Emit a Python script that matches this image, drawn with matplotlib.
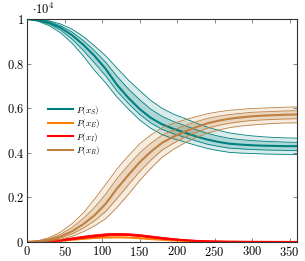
import numpy as np
import matplotlib
matplotlib.use("Agg")
import matplotlib.pyplot as plt
from matplotlib.ticker import FuncFormatter, MultipleLocator

plt.rcParams['mathtext.fontset'] = 'cm'
plt.rcParams['font.family'] = 'DejaVu Serif'

# Zeit in Tagen
t = [0, 15, 30, 45, 60, 75, 90, 105, 120, 135, 150, 165, 180,
     195, 210, 225, 240, 255, 270, 285, 300, 315, 330, 345, 360]

# Anteile in Einheiten von 10^4
S_mean = [1.000, 0.995, 0.983, 0.961, 0.928, 0.885, 0.835, 0.776, 0.705, 0.647, 0.597, 0.557, 0.528,
          0.508, 0.491, 0.474, 0.460, 0.449, 0.441, 0.437, 0.434, 0.432, 0.431, 0.430, 0.430]
S_hi = [1.000, 0.998, 0.992, 0.978, 0.955, 0.922, 0.880, 0.835, 0.780, 0.727, 0.680, 0.635, 0.600,
        0.574, 0.555, 0.534, 0.516, 0.501, 0.489, 0.482, 0.476, 0.472, 0.469, 0.467, 0.466]
S_lo = [1.000, 0.990, 0.970, 0.938, 0.892, 0.835, 0.770, 0.713, 0.650, 0.597, 0.548, 0.510, 0.482,
        0.463, 0.449, 0.434, 0.420, 0.410, 0.402, 0.399, 0.397, 0.395, 0.394, 0.393, 0.393]
S_hi2 = [1.000, 0.997, 0.988, 0.970, 0.942, 0.904, 0.858, 0.806, 0.743, 0.687, 0.639, 0.596, 0.564,
         0.541, 0.523, 0.504, 0.488, 0.475, 0.465, 0.459, 0.455, 0.452, 0.450, 0.448, 0.447]
S_lo2 = [1.000, 0.993, 0.977, 0.950, 0.910, 0.860, 0.803, 0.745, 0.677, 0.622, 0.573, 0.534, 0.505,
         0.486, 0.470, 0.454, 0.439, 0.429, 0.421, 0.418, 0.415, 0.413, 0.412, 0.411, 0.410]

R_mean = [0.000, 0.003, 0.010, 0.025, 0.048, 0.080, 0.120, 0.172, 0.240, 0.300, 0.357, 0.405, 0.445,
          0.472, 0.495, 0.515, 0.532, 0.544, 0.553, 0.559, 0.564, 0.567, 0.569, 0.571, 0.572]
R_hi = [0.000, 0.006, 0.020, 0.045, 0.082, 0.130, 0.192, 0.259, 0.328, 0.386, 0.440, 0.480, 0.512,
        0.532, 0.548, 0.562, 0.575, 0.584, 0.591, 0.595, 0.599, 0.601, 0.603, 0.605, 0.606]
R_lo = [0.000, 0.001, 0.004, 0.012, 0.025, 0.046, 0.072, 0.105, 0.155, 0.213, 0.275, 0.330, 0.380,
        0.415, 0.444, 0.468, 0.488, 0.502, 0.513, 0.520, 0.525, 0.529, 0.532, 0.534, 0.535]
R_hi2 = [0.000, 0.004, 0.015, 0.035, 0.065, 0.105, 0.155, 0.215, 0.285, 0.344, 0.399, 0.443, 0.479,
         0.502, 0.522, 0.539, 0.554, 0.564, 0.572, 0.577, 0.582, 0.584, 0.586, 0.588, 0.589]
R_lo2 = [0.000, 0.002, 0.007, 0.018, 0.036, 0.062, 0.095, 0.137, 0.195, 0.256, 0.315, 0.367, 0.412,
         0.443, 0.469, 0.491, 0.510, 0.523, 0.533, 0.540, 0.545, 0.548, 0.550, 0.552, 0.553]

E_mean = [0.000, 0.001, 0.003, 0.006, 0.010, 0.014, 0.018, 0.020, 0.021, 0.020, 0.017, 0.013, 0.010,
          0.007, 0.005, 0.003, 0.002, 0.0012, 0.0008, 0.0005, 0.0003, 0.0002, 0.0001, 0.0001, 0.0]
I_mean = [0.000, 0.001, 0.004, 0.008, 0.014, 0.021, 0.027, 0.032, 0.034, 0.033, 0.029, 0.023, 0.017,
          0.012, 0.008, 0.005, 0.003, 0.002, 0.0013, 0.0008, 0.0005, 0.0003, 0.0002, 0.0001, 0.0001]
I_hi = [0.000, 0.002, 0.006, 0.011, 0.018, 0.026, 0.032, 0.037, 0.038, 0.037, 0.033, 0.027, 0.021,
        0.015, 0.010, 0.007, 0.004, 0.003, 0.002, 0.0012, 0.0008, 0.0005, 0.0003, 0.0002, 0.0001]
I_lo = [0.000, 0.0005, 0.002, 0.005, 0.010, 0.016, 0.022, 0.027, 0.030, 0.029, 0.025, 0.019, 0.013,
        0.009, 0.006, 0.0035, 0.002, 0.0012, 0.0008, 0.0005, 0.0003, 0.0002, 0.0001, 0.0001, 0.0]

teal = '#008080'
brown = '#BF8040'
orange = '#FF8000'
red = '#FF0000'

fig = plt.figure(figsize=(3.05, 2.61), dpi=100)
ax = fig.add_axes([0.0885, 0.0728, 0.8855, 0.854])

def band(ax, lo, hi, lo2, hi2, mean, col, label):
    ax.fill_between(t, lo, hi, color=col, alpha=0.15, lw=0)
    ax.fill_between(t, lo2, hi2, color=col, alpha=0.2, lw=0)
    for b in (lo, hi, lo2, hi2):
        ax.plot(t, b, color=col, lw=0.6)
    ax.plot(t, mean, color=col, lw=1.5, label=label)

band(ax, S_lo, S_hi, S_lo2, S_hi2, S_mean, teal, r'$P(x_S)$')
ax.plot(t, E_mean, color=orange, lw=1.5, label=r'$P(x_E)$')
ax.fill_between(t, I_lo, I_hi, color=red, alpha=0.5, lw=0)
ax.plot(t, I_hi, color=red, lw=0.6)
ax.plot(t, I_lo, color=red, lw=0.6)
ax.plot(t, I_mean, color=red, lw=1.5, label=r'$P(x_I)$')
band(ax, R_lo, R_hi, R_lo2, R_hi2, R_mean, brown, r'$P(x_R)$')

ax.set_xlim(0, 360)
ax.set_ylim(0, 1)
ax.xaxis.set_major_locator(MultipleLocator(50))
ax.yaxis.set_major_locator(MultipleLocator(0.2))
ax.xaxis.set_major_formatter(FuncFormatter(lambda v, p: f'${v:g}$'))
ax.yaxis.set_major_formatter(FuncFormatter(lambda v, p: f'${v:g}$'))
ax.tick_params(direction='in', length=3, width=0.5, top=True, right=True,
               labelsize=9, pad=2, color='#555555')
for s in ax.spines.values():
    s.set_linewidth(0.8)
    s.set_color('#333333')

ax.text(0.02, 1.01, r'$\cdot 10^4$', transform=ax.transAxes, fontsize=9,
        va='bottom', ha='left')

leg = ax.legend(loc='upper left', bbox_to_anchor=(0.065, 0.637), frameon=False,
                fontsize=6.5, handlelength=2.7, handletextpad=0.4,
                labelspacing=0.05, borderaxespad=0)
for h in leg.get_lines():
    h.set_linewidth(1.5)

fig.savefig('out.png', dpi=100)
